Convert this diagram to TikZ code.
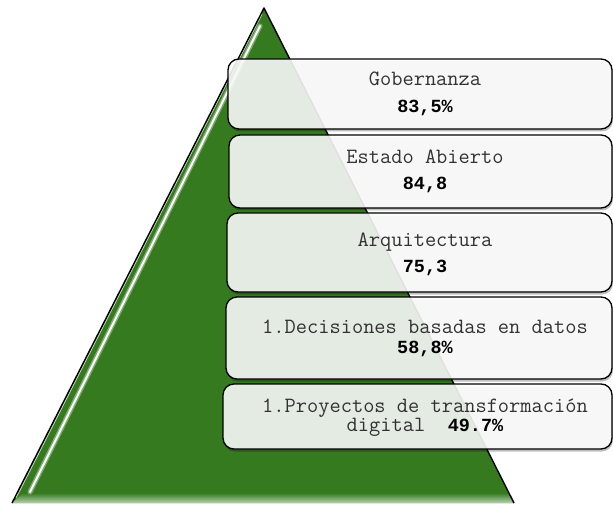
\documentclass[tikz,border=0pt]{standalone}
\usepackage{fontspec}
\newfontfamily\numfont{Liberation Mono}
\usetikzlibrary{shadows}
\definecolor{pgreen}{RGB}{54,122,32}
\definecolor{txtgray}{RGB}{50,50,50}
\newcommand{\pct}[1]{{\numfont\bfseries\fontsize{18.5}{19.5}\selectfont\color{black}#1}}
\tikzset{
  lvlbox/.style={draw=black, line width=1.3pt, rounded corners=11pt, fill=white, fill opacity=0.88,
    drop shadow={shadow xshift=1pt, shadow yshift=-2.5pt, fill=black, opacity=0.25}},
  lvltext/.style={font=\ttfamily\fontsize{21.8}{19.5}\selectfont, text=txtgray, align=center, inner sep=0pt},
}
\begin{document}
\begin{tikzpicture}[x=1pt,y=-1pt]
\useasboundingbox (0,0) rectangle (613,505);
% pyramid
\coordinate (A) at (264,8);
\coordinate (BL) at (12,503);
\coordinate (BR) at (514,503);
\fill[pgreen] (A) -- (BL) -- (BR) -- cycle;
% soft bottom
\shade[top color=pgreen, bottom color=pgreen!35!white] (23,493) -- (509,493) -- (514,503) -- (12,503) -- cycle;
% glossy highlight
\draw[white!60!pgreen, line width=5pt, line cap=round, opacity=0.6] (260,26) -- (30,492);
\draw[white, line width=2pt, line cap=round] (260,26) -- (30,492);
\draw[white!70!pgreen, line width=1pt] (262,14) -- (16,498);
% outline
\draw[black, line width=1.4pt, line join=round] (BL) -- (A) -- (BR);
% boxes
\node[lvlbox, minimum width=384pt, minimum height=70pt] (b1) at (420,94) {};
\node[lvlbox, minimum width=383pt, minimum height=73pt] (b2) at (420.5,171.5) {};
\node[lvlbox, minimum width=385pt, minimum height=79pt] (b3) at (419.5,252.5) {};
\node[lvlbox, minimum width=386pt, minimum height=82pt] (b4) at (419,338) {};
\node[lvlbox, minimum width=389pt, minimum height=65pt] (b5) at (417.5,416.5) {};
% texts
\node[lvltext] (t1) at (425,94) {Gobernanza\\[7pt]\pct{83,5\%}};
\node[lvltext] (t2) at (425,171.5) {Estado Abierto\\[7pt]\pct{84,8}};
\node[lvltext] (t3) at (425,254.5) {Arquitectura\\[7pt]\pct{75,3}};
\node[lvltext] (t4) at (425,338.5) {1.Decisiones basadas en datos\\\pct{58,8\%}};
\node[lvltext] (t5) at (425,417.5) {1.Proyectos de transformación\\digital\ \ \pct{49.7\%}};
\end{tikzpicture}
\end{document}
